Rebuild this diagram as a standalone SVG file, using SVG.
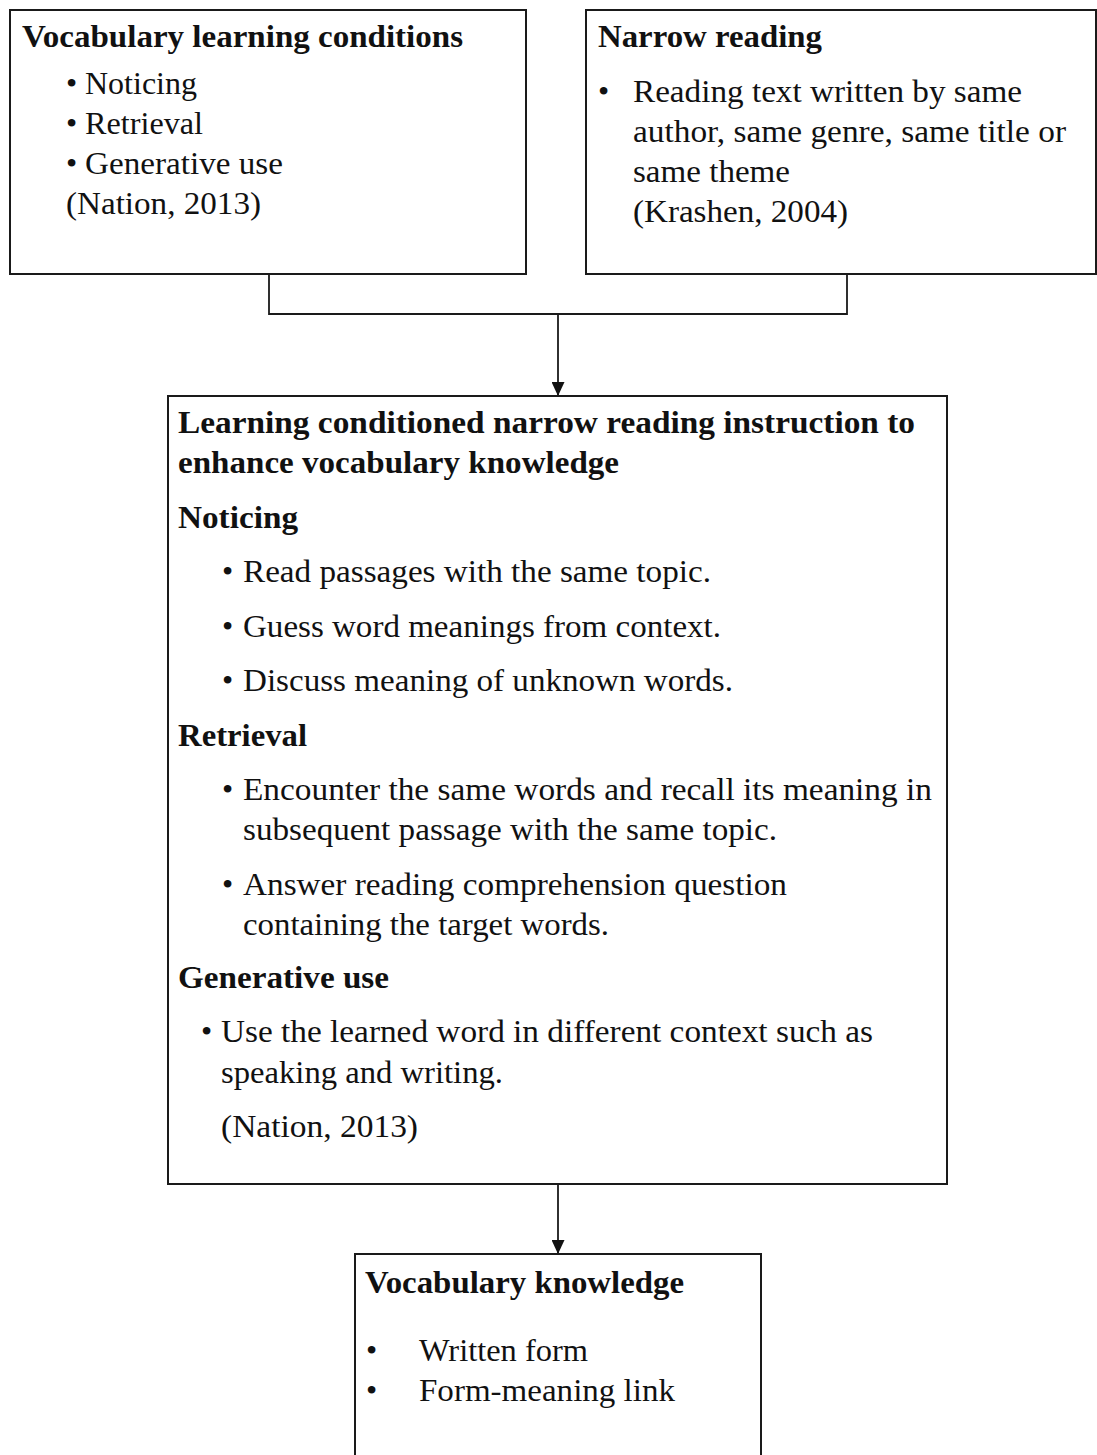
<svg xmlns="http://www.w3.org/2000/svg" width="1097" height="1455" viewBox="0 0 1097 1455">
<style>
.box{fill:#fff;stroke:#1a1a1a;stroke-width:2}
.t{font-family:"Liberation Serif","Times New Roman",serif;font-size:32px;fill:#111}
.b{font-weight:bold}
.c{fill:none;stroke:#1a1a1a;stroke-width:1.8}
</style>
<defs>
<marker id="ah" markerWidth="14" markerHeight="13" refX="10" refY="5" orient="auto" markerUnits="userSpaceOnUse" viewBox="0 0 10 10" preserveAspectRatio="none">
<path d="M0,0 L10,5 L0,10 Z" fill="#111"/>
</marker>
</defs>
<rect width="1097" height="1455" fill="#fff"/>

<g id="connectors">
<polyline class="c" points="269,274 269,314 847,314 847,274"/>
<line class="c" x1="558" y1="314" x2="558" y2="396" marker-end="url(#ah)"/>
<line class="c" x1="558" y1="1184" x2="558" y2="1254" marker-end="url(#ah)"/>
</g>

<g id="node-conditions">
<rect class="box" x="10" y="10" width="516" height="264"/>
<text class="t b" x="22" y="47" textLength="441" lengthAdjust="spacingAndGlyphs">Vocabulary learning conditions</text>
<text class="t" x="66" y="94">•</text>
<text class="t" x="85" y="94" textLength="112" lengthAdjust="spacingAndGlyphs">Noticing</text>
<text class="t" x="66" y="134">•</text>
<text class="t" x="85" y="134" textLength="118" lengthAdjust="spacingAndGlyphs">Retrieval</text>
<text class="t" x="66" y="174">•</text>
<text class="t" x="85" y="174" textLength="198" lengthAdjust="spacingAndGlyphs">Generative use</text>
<text class="t" x="66" y="214" textLength="195" lengthAdjust="spacingAndGlyphs">(Nation, 2013)</text>
</g>

<g id="node-narrow">
<rect class="box" x="586" y="10" width="510" height="264"/>
<text class="t b" x="598" y="47" textLength="224" lengthAdjust="spacingAndGlyphs">Narrow reading</text>
<text class="t" x="598" y="102">•</text>
<text class="t" x="633" y="102" textLength="389" lengthAdjust="spacingAndGlyphs">Reading text written by same</text>
<text class="t" x="633" y="142" textLength="433" lengthAdjust="spacingAndGlyphs">author, same genre, same title or</text>
<text class="t" x="633" y="182" textLength="157" lengthAdjust="spacingAndGlyphs">same theme</text>
<text class="t" x="633" y="222" textLength="215" lengthAdjust="spacingAndGlyphs">(Krashen, 2004)</text>
</g>

<g id="node-instruction">
<rect class="box" x="168" y="396" width="779" height="788"/>
<text class="t b" x="178" y="433" textLength="737" lengthAdjust="spacingAndGlyphs">Learning conditioned narrow reading instruction to</text>
<text class="t b" x="178" y="473" textLength="441" lengthAdjust="spacingAndGlyphs">enhance vocabulary knowledge</text>
<text class="t b" x="178" y="528" textLength="120" lengthAdjust="spacingAndGlyphs">Noticing</text>
<text class="t" x="222" y="582">•</text>
<text class="t" x="243" y="582" textLength="468" lengthAdjust="spacingAndGlyphs">Read passages with the same topic.</text>
<text class="t" x="222" y="637">•</text>
<text class="t" x="243" y="637" textLength="478" lengthAdjust="spacingAndGlyphs">Guess word meanings from context.</text>
<text class="t" x="222" y="691">•</text>
<text class="t" x="243" y="691" textLength="490" lengthAdjust="spacingAndGlyphs">Discuss meaning of unknown words.</text>
<text class="t b" x="178" y="746" textLength="129" lengthAdjust="spacingAndGlyphs">Retrieval</text>
<text class="t" x="222" y="800">•</text>
<text class="t" x="243" y="800" textLength="689" lengthAdjust="spacingAndGlyphs">Encounter the same words and recall its meaning in</text>
<text class="t" x="243" y="840" textLength="534" lengthAdjust="spacingAndGlyphs">subsequent passage with the same topic.</text>
<text class="t" x="222" y="895">•</text>
<text class="t" x="243" y="895" textLength="544" lengthAdjust="spacingAndGlyphs">Answer reading comprehension question</text>
<text class="t" x="243" y="935" textLength="366" lengthAdjust="spacingAndGlyphs">containing the target words.</text>
<text class="t b" x="178" y="988" textLength="211" lengthAdjust="spacingAndGlyphs">Generative use</text>
<text class="t" x="201" y="1042">•</text>
<text class="t" x="221" y="1042" textLength="652" lengthAdjust="spacingAndGlyphs">Use the learned word in different context such as</text>
<text class="t" x="221" y="1083" textLength="282" lengthAdjust="spacingAndGlyphs">speaking and writing.</text>
<text class="t" x="221" y="1137" textLength="197" lengthAdjust="spacingAndGlyphs">(Nation, 2013)</text>
</g>

<g id="node-knowledge">
<rect class="box" x="355" y="1254" width="406" height="230"/>
<text class="t b" x="365" y="1293" textLength="319" lengthAdjust="spacingAndGlyphs">Vocabulary knowledge</text>
<text class="t" x="366" y="1361">•</text>
<text class="t" x="419" y="1361" textLength="169" lengthAdjust="spacingAndGlyphs">Written form</text>
<text class="t" x="366" y="1401">•</text>
<text class="t" x="419" y="1401" textLength="256" lengthAdjust="spacingAndGlyphs">Form-meaning link</text>
</g>
</svg>
